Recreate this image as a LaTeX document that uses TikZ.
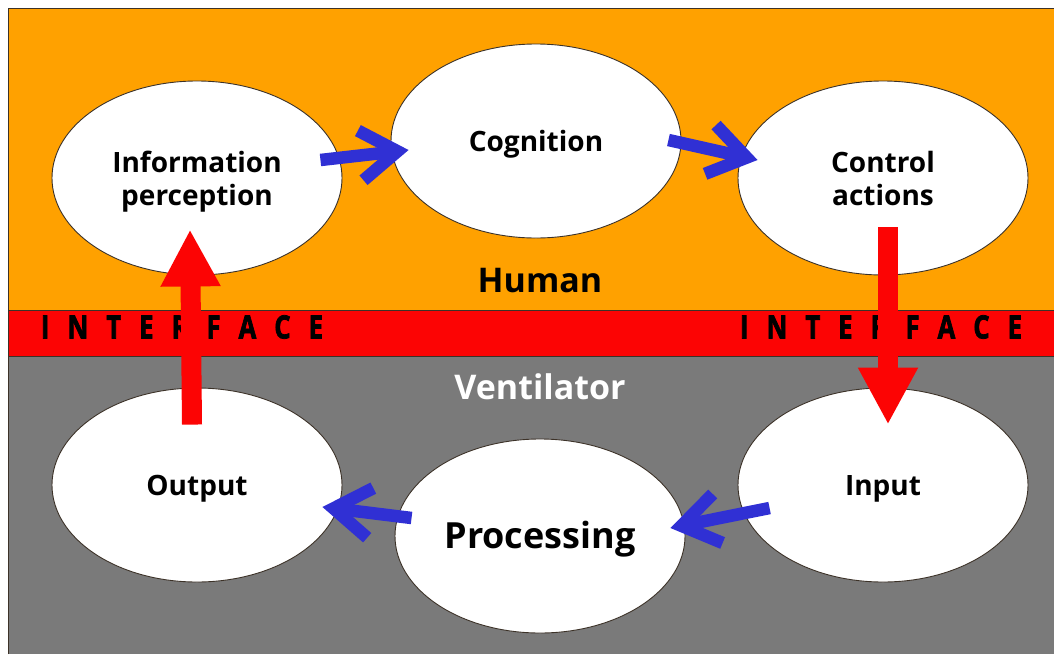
\documentclass[tikz,border=0pt]{standalone}
\usepackage{fontspec}
\usepackage{graphicx}
\setmainfont{Open Sans}
\usetikzlibrary{shapes.geometric,arrows.meta}

\definecolor{humanbg}{RGB}{255,161,0}
\definecolor{ifacebg}{RGB}{252,4,4}
\definecolor{machbg}{RGB}{122,122,122}
\definecolor{flowblue}{RGB}{48,48,212}
\definecolor{edgeline}{RGB}{60,50,40}

% condensed, heavy capital for the interface banner
\newcommand{\cq}[1]{\scalebox{0.8}[1]{#1}}
\newcommand{\ifaceword}{\makebox[282pt][s]{\addfontfeature{FakeBold=2.5}\cq{I}\hfil\cq{N}\hfil\cq{T}\hfil\cq{E}\hfil\cq{R}\hfil\cq{F}\hfil\cq{A}\hfil\cq{C}\hfil\cq{E}}}
% stage caption, drawn a little below the ellipse centre (box size kept)
\newcommand{\stagetext}[1]{\raisebox{-4pt}[\height][\depth]{\begin{tabular}{@{}c@{}}#1\end{tabular}}}

\tikzset{
  stage/.style={ellipse, draw=edgeline, line width=0.9pt, fill=white,
    minimum width=290pt, minimum height=194pt, inner sep=0pt,
    font=\fontsize{28}{34}\selectfont\bfseries},
  flow/.style={draw=flowblue, line width=12.5pt,
    -{Straight Barb[length=37pt, width=50pt]}},
  crossing/.style={draw=ifacebg, line width=20pt,
    -{Triangle[length=57pt, width=56pt]}},
  zonelabel/.style={font=\fontsize{34}{40}\selectfont\bfseries},
  bannertext/.style={font=\fontsize{32}{36}\selectfont\bfseries, inner sep=0pt}
}

\begin{document}
\begin{tikzpicture}[x=1pt, y=-1pt]
  \useasboundingbox (0,0) rectangle (1054,654);
  \fill[white] (0,0) rectangle (1054,654);

  % three horizontal zones
  \fill[humanbg] (8,8) rectangle (1054,310);
  \fill[ifacebg] (8,310) rectangle (1054,356);
  \fill[machbg] (8,356) rectangle (1054,654);
  \draw[edgeline, line width=0.9pt] (8,654) -- (8,8) -- (1054,8);
  \draw[edgeline, line width=0.9pt] (8,310) -- (1054,310);
  \draw[edgeline, line width=0.9pt] (8,356) -- (1054,356);

  % banner and zone labels
  \node[bannertext] (ifl) at (182,327) {\ifaceword};
  \node[bannertext] (ifr) at (881,327) {\ifaceword};
  \node[zonelabel] (human) at (540,281) {Human};
  \node[zonelabel, text=white] (vent) at (540,387) {Ventilator};

  % stages
  \node[stage] (info)   at (197,178) {\stagetext{Information\\[-1pt]perception}};
  \node[stage] (cog)    at (536,141) {\stagetext{Cognition}};
  \node[stage] (ctrl)   at (883,178) {\stagetext{Control\\[-1pt]actions}};
  \node[stage] (output) at (197,485) {\stagetext{Output}};
  \node[stage, font=\fontsize{36}{40}\selectfont\bfseries] (proc) at (540,536) {\stagetext{Processing}};
  \node[stage] (input)  at (883,485) {\stagetext{Input}};

  % flow inside each side
  \draw[flow] ([shift={(-22,-18)}]info.east) -- ([shift={(18,9)}]cog.west);
  \draw[flow] ([shift={(-13,-1)}]cog.east) -- ([shift={(20,-18)}]ctrl.west);
  \draw[flow] ([shift={(32,23)}]input.west) -- ([shift={(-15,-8)}]proc.east);
  \draw[flow] ([shift={(17,-18)}]proc.west) -- ([shift={(-20,22)}]output.east);

  % flow across the interface
  \draw[crossing] ([shift={(-5,37)}]output.north) -- ([shift={(-7,-46)}]info.south);
  \draw[crossing] ([shift={(5,-48)}]ctrl.south) -- ([shift={(5,37)}]input.north);
\end{tikzpicture}
\end{document}
